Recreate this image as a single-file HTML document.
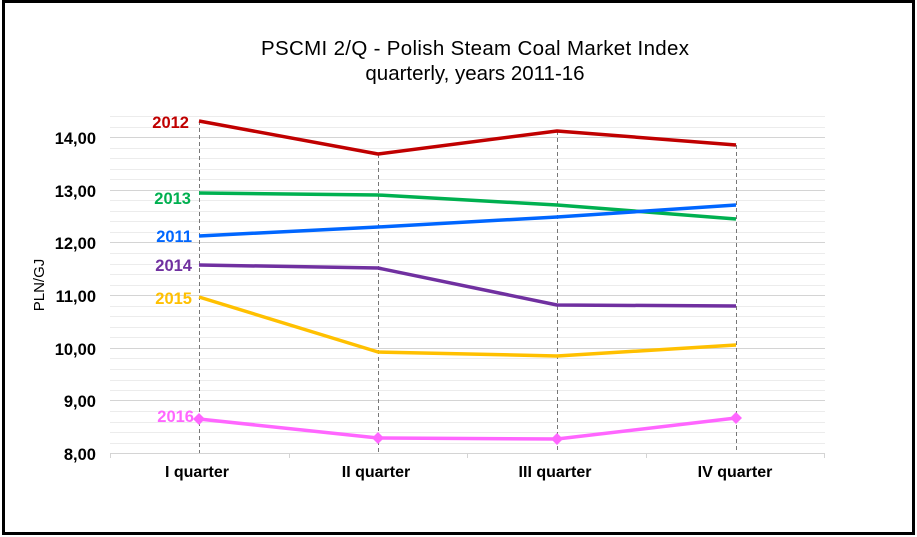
<!DOCTYPE html>
<html><head><style>body{margin:0;background:#fff}svg{display:block;font-family:"Liberation Sans",sans-serif}</style></head><body>
<svg width="917" height="537" xmlns="http://www.w3.org/2000/svg">
<rect x="0" y="0" width="917" height="537" fill="#fff"/>
<rect x="3.5" y="1.5" width="910" height="532" fill="none" stroke="#000" stroke-width="3"/>
<text x="475" y="55" text-anchor="middle" font-size="20.5" fill="#000" textLength="428">PSCMI 2/Q - Polish Steam Coal Market Index</text>
<text x="475" y="80" text-anchor="middle" font-size="20.5" fill="#000">quarterly,  years 2011-16</text>
<g stroke="#ececec" stroke-width="1">
<line x1="110" x2="825" y1="116.5" y2="116.5"/><line x1="110" x2="825" y1="127.5" y2="127.5"/><line x1="110" x2="825" y1="148.5" y2="148.5"/><line x1="110" x2="825" y1="158.5" y2="158.5"/><line x1="110" x2="825" y1="169.5" y2="169.5"/><line x1="110" x2="825" y1="179.5" y2="179.5"/>
<line x1="110" x2="825" y1="200.5" y2="200.5"/><line x1="110" x2="825" y1="211.5" y2="211.5"/><line x1="110" x2="825" y1="221.5" y2="221.5"/><line x1="110" x2="825" y1="232.5" y2="232.5"/>
<line x1="110" x2="825" y1="253.5" y2="253.5"/><line x1="110" x2="825" y1="264.5" y2="264.5"/><line x1="110" x2="825" y1="274.5" y2="274.5"/><line x1="110" x2="825" y1="285.5" y2="285.5"/>
<line x1="110" x2="825" y1="306.5" y2="306.5"/><line x1="110" x2="825" y1="316.5" y2="316.5"/><line x1="110" x2="825" y1="327.5" y2="327.5"/><line x1="110" x2="825" y1="337.5" y2="337.5"/>
<line x1="110" x2="825" y1="358.5" y2="358.5"/><line x1="110" x2="825" y1="369.5" y2="369.5"/><line x1="110" x2="825" y1="380.5" y2="380.5"/><line x1="110" x2="825" y1="390.5" y2="390.5"/>
<line x1="110" x2="825" y1="411.5" y2="411.5"/><line x1="110" x2="825" y1="422.5" y2="422.5"/><line x1="110" x2="825" y1="432.5" y2="432.5"/><line x1="110" x2="825" y1="443.5" y2="443.5"/>
</g>
<g stroke="#d4d4d4" stroke-width="1">
<line x1="110" x2="825" y1="137.5" y2="137.5"/><line x1="110" x2="825" y1="190.5" y2="190.5"/><line x1="110" x2="825" y1="242.5" y2="242.5"/><line x1="110" x2="825" y1="295.5" y2="295.5"/><line x1="110" x2="825" y1="348.5" y2="348.5"/><line x1="110" x2="825" y1="400.5" y2="400.5"/><line x1="110" x2="825" y1="453.5" y2="453.5"/>
<line x1="110.5" x2="110.5" y1="453" y2="458"/><line x1="289.5" x2="289.5" y1="453" y2="458"/><line x1="467.5" x2="467.5" y1="453" y2="458"/><line x1="646.5" x2="646.5" y1="453" y2="458"/><line x1="824.5" x2="824.5" y1="453" y2="458"/>
</g>
<g stroke="#777" stroke-width="1" stroke-dasharray="4,3">
<line x1="199.5" x2="199.5" y1="121" y2="453"/><line x1="378.5" x2="378.5" y1="154" y2="453"/><line x1="557.5" x2="557.5" y1="131" y2="453"/><line x1="736.5" x2="736.5" y1="145" y2="453"/>
</g>
<g fill="none" stroke-width="3.5" stroke-linejoin="round">
<polyline stroke="#c00000" points="199,121 378,154 557,131 736,145"/>
<polyline stroke="#00b050" points="199,193 378,195 557,205 736,219"/>
<polyline stroke="#0066ff" points="199,236 378,227 557,217 736,205"/>
<polyline stroke="#7030a0" points="199,265 378,268 557,305 736,306"/>
<polyline stroke="#ffc000" points="199,297 378,352 557,356 736,345"/>
<polyline stroke="#ff66ff" points="199,419 378,438 557,439 736,418"/>
</g>
<g fill="#ff66ff"><path d="M199 413l6 6-6 6-6-6z"/><path d="M378 432l6 6-6 6-6-6z"/><path d="M557 433l6 6-6 6-6-6z"/><path d="M736 412l6 6-6 6-6-6z"/></g>
<g font-size="16.5" font-weight="bold" text-anchor="end" fill="#000">
<text x="96" y="144">14,00</text><text x="96" y="197">13,00</text><text x="96" y="249">12,00</text><text x="96" y="302">11,00</text><text x="96" y="355">10,00</text><text x="96" y="407">9,00</text><text x="96" y="460">8,00</text>
</g>
<text transform="translate(44,285) rotate(-90)" text-anchor="middle" font-size="15" fill="#000">PLN/GJ</text>
<g font-size="16" font-weight="bold" text-anchor="middle" fill="#000">
<text x="197" y="477">I quarter</text><text x="376" y="477">II quarter</text><text x="555" y="477">III quarter</text><text x="735" y="477">IV quarter</text>
</g>
<g font-size="16.5" font-weight="bold" text-anchor="end">
<text x="189" y="128" fill="#c00000">2012</text>
<text x="191" y="204" fill="#00b050">2013</text>
<text x="192" y="242" fill="#0066ff">2011</text>
<text x="192" y="271" fill="#7030a0">2014</text>
<text x="192" y="304" fill="#ffc000">2015</text>
<text x="194" y="422" fill="#ff66ff">2016</text>
</g>
</svg>
</body></html>
